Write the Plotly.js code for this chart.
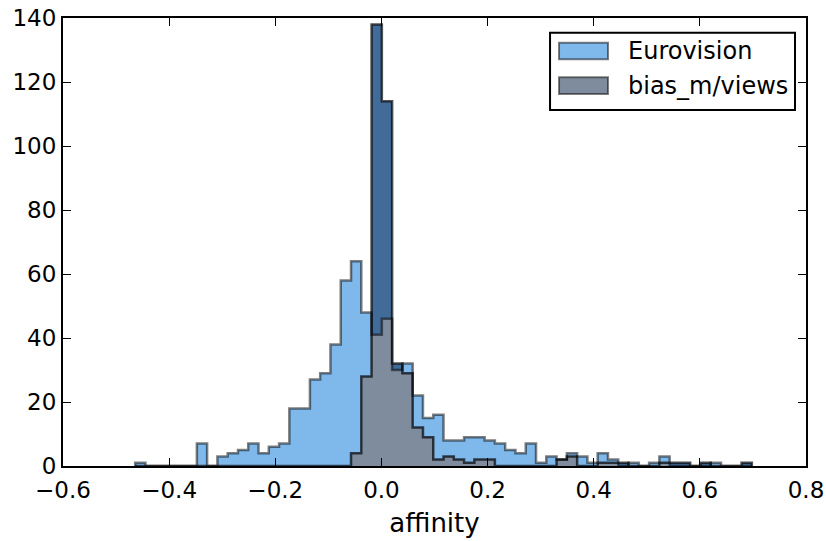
<!DOCTYPE html>
<html>
<head>
<meta charset="utf-8">
<script src="https://cdn.plot.ly/plotly-3.0.1.min.js"></script>
<style>html,body{margin:0;padding:0;background:#fff}#chart{width:826px;height:541px}</style>
</head>
<body>
<div id="chart"></div>
<script>
// Histogram bins shared by both series
const binStart = -0.464;
const binEnd = 0.698;
const nBins = 60;

// Counts per bin
const euroCounts = [1,0,0,0,0,0,7,0,3,4,
                    5,7,4,6,7,18,18,27,29,38,
                    58,64,48,41,46,30,32,22,15,16,
                    8,8,9,9,8,7,5,4,7,1,
                    3,2,4,3,1,4,2,0,1,0,
                    1,3,0,0,0,0,1,0,0,0];
const biasCounts = [0,0,0,0,0,0,0,0,0,0,
                    0,0,0,0,0,0,0,0,0,0,
                    0,4,28,138,114,32,29,12,9,2,
                    3,2,1,2,2,0,0,0,0,0,
                    0,2,3,0,0,1,1,1,0,0,
                    0,1,1,1,0,1,0,0,0,1];

const seriesNames = ["Eurovision", "bias_m/views"];
const xTicks = [-0.6, -0.4, -0.2, 0.0, 0.2, 0.4, 0.6, 0.8];
const yTicks = [0, 20, 40, 60, 80, 100, 120, 140];

const euroOnly = "#7fb9eb";
const biasOnly = "#416b98";
const overlapCol = "#7f8c9e";

const binW = (binEnd - binStart) / nBins;
const edges = Array.from({length: nBins + 1}, (_, i) => binStart + i * binW);

function stepXY(counts) {
  const x = [edges[0]].concat(edges);
  const y = [0].concat(counts, [0]);
  return {x, y};
}
const overlapCounts = euroCounts.map((v, i) => Math.min(v, biasCounts[i]));

const e = stepXY(euroCounts), b = stepXY(biasCounts), o = stepXY(overlapCounts);

const traces = [
  {x: e.x, y: e.y, type: "scatter", mode: "lines", line: {shape: "hv", width: 0}, fill: "tozeroy", fillcolor: euroOnly, showlegend: false, hoverinfo: "skip"},
  {x: b.x, y: b.y, type: "scatter", mode: "lines", line: {shape: "hv", width: 0}, fill: "tozeroy", fillcolor: biasOnly, showlegend: false, hoverinfo: "skip"},
  {x: o.x, y: o.y, type: "scatter", mode: "lines", line: {shape: "hv", width: 0}, fill: "tozeroy", fillcolor: overlapCol, showlegend: false, hoverinfo: "skip"},
  {x: e.x, y: e.y, type: "scatter", mode: "lines", name: seriesNames[0], line: {shape: "hv", width: 2.5, color: "rgba(0,0,0,0.5)"}, showlegend: false},
  {x: b.x, y: b.y, type: "scatter", mode: "lines", name: seriesNames[1], line: {shape: "hv", width: 2.5, color: "rgba(0,0,0,0.68)"}, showlegend: false}
];

const font = {family: "DejaVu Sans", size: 23, color: "#000"};
const legFont = {family: "DejaVu Sans", size: 24, color: "#000"};
const titleFont = {family: "DejaVu Sans", size: 26, color: "#000"};
const axisCommon = {
  ticks: "inside", ticklen: 8, tickwidth: 1, tickcolor: "#000",
  showline: true, linewidth: 2, linecolor: "#000", mirror: "ticks",
  showgrid: false, zeroline: false, tickfont: font, fixedrange: true
};

// Legend box (paper coordinates)
const L = {x0: 0.6555, x1: 0.9852, y0: 0.7946, y1: 0.9672};
const shapes = [
  {type: "rect", xref: "paper", yref: "paper", x0: L.x0, x1: L.x1, y0: L.y0, y1: L.y1, line: {color: "#000", width: 2}, fillcolor: "#fff", layer: "above"},
  {type: "rect", xref: "paper", yref: "paper", x0: 0.6676, x1: 0.7335, y0: 0.9078, y1: 0.9449, line: {color: "rgba(0,0,0,0.5)", width: 2}, fillcolor: euroOnly, layer: "above"},
  {type: "rect", xref: "paper", yref: "paper", x0: 0.6676, x1: 0.7335, y0: 0.8304, y1: 0.8676, line: {color: "rgba(0,0,0,0.5)", width: 2}, fillcolor: overlapCol, layer: "above"}
];
const annotations = [
  {xref: "paper", yref: "paper", x: 0.7580, y: 0.9263, xanchor: "left", yanchor: "middle", text: seriesNames[0], showarrow: false, font: legFont},
  {xref: "paper", yref: "paper", x: 0.7580, y: 0.8490, xanchor: "left", yanchor: "middle", text: seriesNames[1], showarrow: false, font: legFont}
];

const layout = {
  width: 826, height: 541,
  margin: {l: 63, r: 20, t: 18, b: 75},
  paper_bgcolor: "#fff", plot_bgcolor: "#fff",
  font: font,
  showlegend: false,
  xaxis: Object.assign({}, axisCommon, {range: [-0.6, 0.8], tickvals: xTicks, tickformat: ".1f", ticklabelstandoff: 2, title: {text: "affinity", font: titleFont, standoff: 12}}),
  yaxis: Object.assign({}, axisCommon, {range: [0, 140], tickvals: yTicks}),
  shapes: shapes,
  annotations: annotations
};

Plotly.newPlot("chart", traces, layout, {staticPlot: true, displayModeBar: false});
</script>
</body>
</html>
